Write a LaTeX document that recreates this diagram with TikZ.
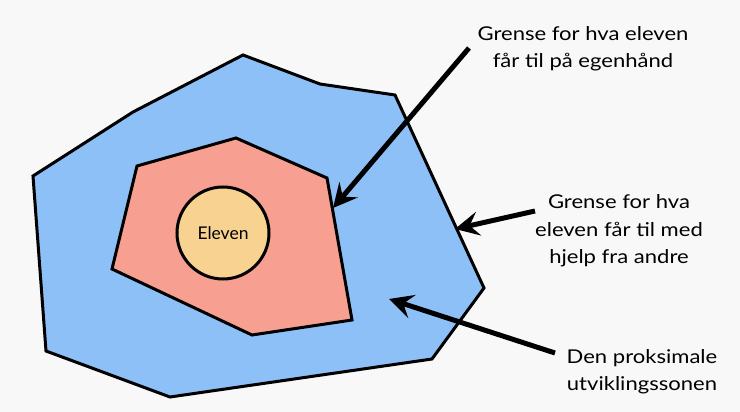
\documentclass[tikz,border=0pt]{standalone}
\usepackage{fontspec}
\setsansfont{Lato}
\newfontfamily\labelfont[FakeStretch=1.16]{Lato}
\usetikzlibrary{arrows.meta, positioning}
\definecolor{zoneblue}{RGB}{142,192,248}
\definecolor{zonered}{RGB}{247,160,146}
\definecolor{selfyellow}{RGB}{247,210,144}
\definecolor{paper}{RGB}{248,248,248}

\begin{document}
\begin{tikzpicture}[x=1pt, y=-1pt,
    zone/.style={draw=black, line width=3pt, line join=miter},
    label text/.style={font=\labelfont\fontsize{19}{27.3}\selectfont, align=center, text=black},
    pointer/.style={line width=5pt, -{Stealth[length=24pt, width=24pt, inset=9pt]}}]
    \fill[paper] (0,0) rectangle (740,412);
    \useasboundingbox (0,0) rectangle (740,412);
    % outer zone
    \draw[zone, fill=zoneblue] (33,176) -- (133,112) -- (243,55) -- (320,84) -- (395,95)
        -- (484,288) -- (432,359) -- (170,397) -- (46,351) -- cycle;
    % inner zone
    \draw[zone, fill=zonered] (137,166) -- (236,138) -- (327,178) -- (352,320)
        -- (252,335) -- (112,269) -- cycle;
    \node (eleven) [circle, draw=black, line width=3pt, fill=selfyellow, minimum size=92pt,
        font=\sffamily\fontsize{17.5}{20}\selectfont] at (223,233) {Eleven};
    % labels
    \node (alone) [label text] at (583,49) {Grense for hva eleven\\får til på egenhånd};
    \node (helped) [label text] at (619,231) {Grense for hva\\eleven får til med\\hjelp fra andre};
    \node (zpd) [label text] at (642,372) {Den proksimale\\utviklingssonen};
    \coordinate (alone tail) at (469,48);
    \coordinate (alone tip) at (333,208);
    \coordinate (helped tail) at (535,211);
    \coordinate (helped tip) at (455,229);
    \coordinate (zpd tail) at (555,353);
    \coordinate (zpd tip) at (389,299);
    \foreach \a in {alone, helped, zpd}
        \draw[pointer] (\a\space tail) -- (\a\space tip);
\end{tikzpicture}
\end{document}
